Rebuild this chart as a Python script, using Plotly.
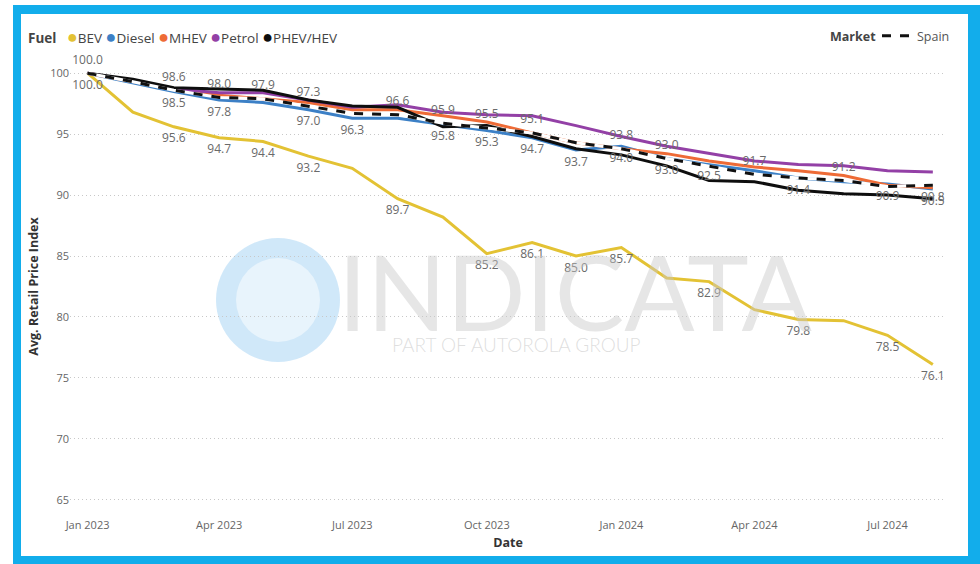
import plotly.graph_objects as go

# ---------------- data ----------------
months = ["2023-01-01", "2023-02-01", "2023-03-01", "2023-04-01", "2023-05-01",
          "2023-06-01", "2023-07-01", "2023-08-01", "2023-09-01", "2023-10-01",
          "2023-11-01", "2023-12-01", "2024-01-01", "2024-02-01", "2024-03-01",
          "2024-04-01", "2024-05-01", "2024-06-01", "2024-07-01", "2024-08-01"]

bev    = [100.0, 96.8, 95.6, 94.7, 94.4, 93.2, 92.2, 89.7, 88.2, 85.2,
          86.1, 85.0, 85.7, 83.2, 82.9, 80.6, 79.8, 79.7, 78.5, 76.1]
diesel = [100.0, 99.2, 98.5, 97.8, 97.6, 97.0, 96.3, 96.3, 95.8, 95.3,
          94.7, 93.7, 94.0, 93.0, 92.5, 92.0, 91.4, 91.1, 90.9, 90.5]
mhev   = [100.0, 99.3, 98.7, 98.2, 97.9, 97.6, 97.0, 97.0, 96.5, 96.0,
          95.1, 94.3, 93.8, 93.4, 92.8, 92.3, 92.0, 91.6, 90.8, 90.6]
petrol = [100.0, 99.4, 98.7, 98.4, 98.4, 97.8, 97.2, 97.4, 96.8, 96.6,
          96.5, 95.7, 94.8, 94.0, 93.4, 92.8, 92.5, 92.4, 92.0, 91.9]
phev   = [100.0, 99.5, 98.8, 98.7, 98.6, 97.8, 97.3, 97.2, 95.6, 95.7,
          94.8, 93.8, 93.3, 92.4, 91.2, 91.1, 90.4, 90.1, 90.0, 89.7]
spain  = [100.0, 99.3, 98.6, 98.0, 97.9, 97.3, 96.7, 96.6, 95.9, 95.5,
          95.1, 94.3, 93.8, 93.0, 92.4, 91.7, 91.4, 91.2, 90.7, 90.8]

# months whose data label is shown (index into months)
bev_label_idx    = [2, 3, 4, 5, 7, 9, 10, 11, 12, 14, 16, 18, 19]
diesel_label_idx = [0, 2, 3, 5, 6, 8, 9, 10, 11, 12, 13, 14, 16, 18, 19]
spain_label_idx  = [0, 2, 3, 4, 5, 7, 8, 9, 10, 12, 13, 15, 17, 19]

tick_vals = ["2023-01-01", "2023-04-01", "2023-07-01", "2023-10-01",
             "2024-01-01", "2024-04-01", "2024-07-01"]
tick_text = ["Jan 2023", "Apr 2023", "Jul 2023", "Oct 2023",
             "Jan 2024", "Apr 2024", "Jul 2024"]
y_ticks = [65, 70, 75, 80, 85, 90, 95, 100]

fuel_names = ["BEV", "Diesel", "MHEV", "Petrol", "PHEV/HEV"]
fuel_colors = ["#E3C234", "#3C80C6", "#EE6B36", "#9340A6", "#0E0E0E"]

# ---------------- figure ----------------
W, H = 980, 564
ML, MR, MT, MB = 70, 34, 61, 52
PW, PH = W - ML - MR, H - MT - MB


def px(x):
    return (x - ML) / PW


def py(y):
    return (H - MB - y) / PH


def labels(vals, idx):
    return [f"{v:.1f}" if i in idx else "" for i, v in enumerate(vals)]


FONT = "Open Sans"
LABEL_COLOR = "#6a6a6a"


def label_trace(vals, idx, pos):
    return go.Scatter(x=months, y=vals, mode="markers+text",
                      marker=dict(size=9, opacity=0), text=labels(vals, idx),
                      textposition=pos, showlegend=False, hoverinfo="skip",
                      textfont=dict(family=FONT, size=12, color=LABEL_COLOR),
                      cliponaxis=False)


fig = go.Figure()

series = [bev, diesel, mhev, petrol, phev]
for name, vals, col in zip(fuel_names, series, fuel_colors):
    fig.add_trace(go.Scatter(x=months, y=vals, name=name, mode="lines",
                             line=dict(color=col, width=3), showlegend=False))

# Spain market line (white underlay + dashed black)
fig.add_trace(go.Scatter(x=months, y=spain, mode="lines", line=dict(color="white", width=3),
                         showlegend=False, hoverinfo="skip"))
fig.add_trace(go.Scatter(x=months, y=spain, name="Spain", mode="lines",
                         line=dict(color="#111111", width=3, dash="dash"),
                         legend="legend2", showlegend=True))

# data labels
fig.add_trace(label_trace(bev, bev_label_idx, "bottom center"))
fig.add_trace(label_trace(diesel, diesel_label_idx, "bottom center"))
spain_pos = ["top center"] * (len(spain) - 1) + ["bottom center"]
fig.add_trace(label_trace(spain, spain_label_idx, spain_pos))

# Fuel legend as rich text
parts = ["<b>Fuel</b>&nbsp;&nbsp;"]
for n, c in zip(fuel_names, fuel_colors):
    parts.append(f"&nbsp;<span style='color:{c};font-size:18px'>●</span>{n}")
fig.add_annotation(text="".join(parts), xref="paper", yref="paper",
                   x=px(26), y=py(36), xanchor="left", yanchor="middle",
                   showarrow=False, font=dict(family=FONT, size=13.5, color="#444"))
# Market legend title
fig.add_annotation(text="<b>Market</b>", xref="paper", yref="paper",
                   x=px(878), y=py(36), xanchor="right", yanchor="middle",
                   showarrow=False, font=dict(family=FONT, size=12.5, color="#444"))

# Watermark
fig.add_annotation(text="INDICATA", xref="paper", yref="paper", x=px(575), y=py(290),
                   xanchor="center", yanchor="middle", showarrow=False,
                   font=dict(family="Lato", size=104, weight=400, color="rgba(200,200,200,0.45)"))
fig.add_annotation(text="PART OF AUTOROLA GROUP", xref="paper", yref="paper", x=px(516), y=py(345),
                   xanchor="center", yanchor="middle", showarrow=False,
                   font=dict(family="Lato", size=19, weight=300, color="rgba(195,195,195,0.55)"))

shapes = [
    # logo disc
    dict(type="circle", xref="paper", yref="paper", x0=px(216), x1=px(340), y0=py(362), y1=py(238),
         fillcolor="rgba(110,185,235,0.32)", line=dict(width=0), layer="below"),
    dict(type="circle", xref="paper", yref="paper", x0=px(236), x1=px(320), y0=py(342), y1=py(258),
         fillcolor="rgba(255,255,255,0.5)", line=dict(width=0), layer="below"),
]
# blue frame
FR = "#12ADEB"
shapes += [
    dict(type="rect", xref="paper", yref="paper", x0=px(13), x1=px(21), y0=py(564), y1=py(5),
         fillcolor=FR, line=dict(width=0)),
    dict(type="rect", xref="paper", yref="paper", x0=px(13), x1=px(980), y0=py(14), y1=py(5),
         fillcolor=FR, line=dict(width=0)),
    dict(type="rect", xref="paper", yref="paper", x0=px(968), x1=px(980), y0=py(564), y1=py(5),
         fillcolor=FR, line=dict(width=0)),
    dict(type="rect", xref="paper", yref="paper", x0=px(13), x1=px(980), y0=py(564), y1=py(556),
         fillcolor=FR, line=dict(width=0)),
]

fig.update_layout(
    width=W, height=H,
    margin=dict(l=ML, r=MR, t=MT, b=MB, autoexpand=False),
    paper_bgcolor="white", plot_bgcolor="white",
    font=dict(family=FONT, size=11, color="#666"),
    shapes=shapes,
    legend2=dict(orientation="h", x=px(955), y=py(36), xanchor="right", yanchor="middle",
                 font=dict(family=FONT, size=12.5, color="#555"),
                 bgcolor="rgba(0,0,0,0)", itemwidth=30),
    xaxis=dict(range=["2022-12-20", "2024-08-10"], tickvals=tick_vals, ticktext=tick_text,
               showgrid=False, zeroline=False, showline=False, ticks="", automargin=False,
               ticklabelstandoff=5,
               tickfont=dict(family=FONT, size=11, color="#666"),
               title=dict(text="<b>Date</b>", font=dict(family=FONT, size=12.5, color="#333"),
                          standoff=7)),
    yaxis=dict(range=[64, 101], tickvals=y_ticks, showgrid=True, gridcolor="#c8c8c8",
               griddash="1px,3px", gridwidth=1, zeroline=False, showline=False, ticks="",
               automargin=False,
               tickfont=dict(family=FONT, size=11, color="#666"),
               title=dict(text="<b>Avg. Retail Price Index</b>",
                          font=dict(family=FONT, size=12.5, color="#333"), standoff=8)),
)

fig.write_html("out.html", config={"displayModeBar": False},
               post_script="document.body.style.margin='0px';document.body.style.overflow='hidden';")
